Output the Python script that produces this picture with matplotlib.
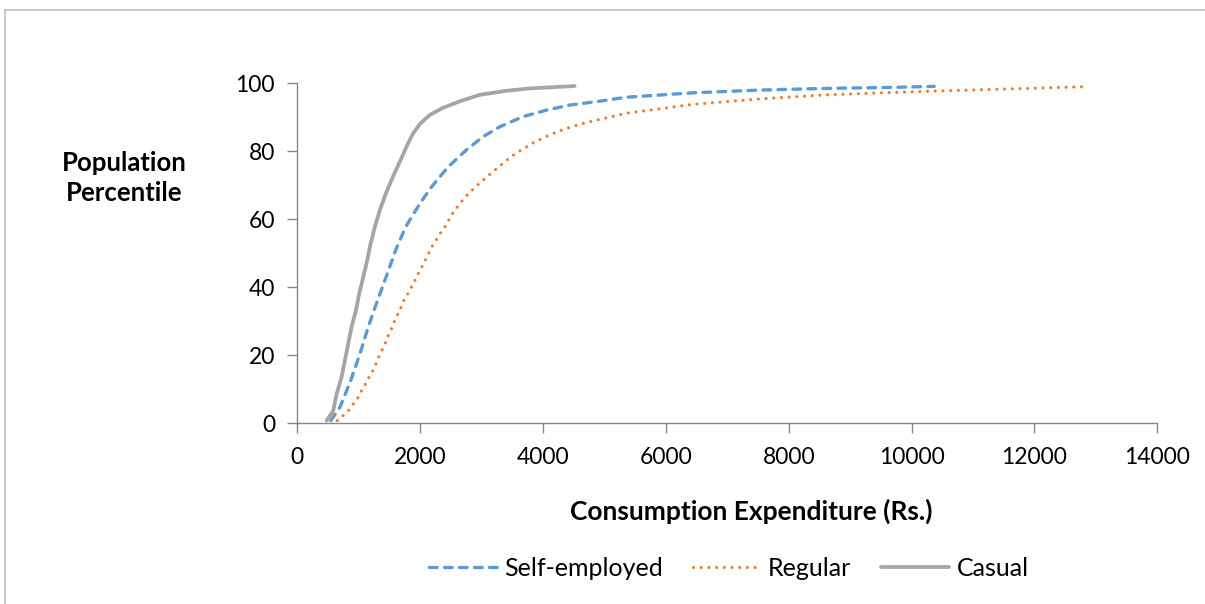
import matplotlib
matplotlib.use("Agg")
import matplotlib.pyplot as plt
from matplotlib.lines import Line2D

# Data: (expenditure in Rs., population percentile)
casual_x = [477, 585, 640, 721, 775, 829, 883, 954, 1008, 1073, 1138, 1192, 1263, 1344, 1442, 1561, 1696, 1794, 1886, 1995, 2157, 2374, 2645, 2970, 3404, 3783, 4515]
casual_y = [0.8, 3.7, 8.6, 13.6, 18.5, 23.4, 28.3, 33.2, 38.1, 43.0, 47.9, 52.8, 57.8, 62.7, 67.6, 72.7, 78.0, 82.0, 85.3, 88.0, 90.7, 92.8, 94.7, 96.6, 97.8, 98.5, 99.2]

self_x = [545, 694, 870, 1019, 1154, 1305, 1465, 1600, 1765, 1995, 2184, 2455, 2753, 3024, 3295, 3675, 4054, 4434, 4867, 5356, 6439, 7524, 8608, 9691, 10369]
self_y = [0.8, 4.7, 12.6, 20.4, 28.3, 36.1, 44.0, 50.9, 57.8, 64.6, 69.5, 75.4, 80.4, 84.3, 87.2, 90.2, 92.1, 93.6, 94.6, 95.9, 97.2, 98.0, 98.5, 98.8, 99.1]

reg_x = [650, 748, 840, 911, 986, 1046, 1111, 1171, 1230, 1279, 1328, 1382, 1431, 1480, 1534, 1577, 1626, 1686, 1734, 1799, 1859, 1913, 1967, 2027, 2087, 2141, 2200, 2266, 2336, 2412, 2461, 2520, 2596, 2672, 2753, 2846, 2943, 3035, 3133, 3225, 3317, 3404, 3496, 3593, 3713, 3821, 3930, 4038, 4146, 4271, 4379, 4499, 4634, 4759, 4878, 5356, 6439, 7524, 8608, 9691, 10341, 11697, 12846]
reg_y = [0.8, 2.3, 3.9, 5.7, 7.5, 9.6, 11.6, 13.6, 15.5, 17.5, 19.6, 21.6, 23.6, 25.8, 27.8, 29.8, 31.7, 34.0, 36.1, 38.1, 40.1, 42.0, 44.0, 46.0, 48.1, 50.1, 52.2, 54.1, 56.1, 58.0, 59.6, 61.5, 63.4, 65.2, 66.9, 68.6, 70.2, 71.7, 73.2, 74.6, 76.0, 77.3, 78.6, 79.8, 81.1, 82.3, 83.3, 84.2, 85.1, 86.0, 86.7, 87.4, 88.1, 88.7, 89.2, 91.2, 93.8, 95.4, 96.6, 97.3, 97.7, 98.4, 99.0]

series_names = ['Self-employed', 'Regular', 'Casual']
x_ticks = [0, 2000, 4000, 6000, 8000, 10000, 12000, 14000]
y_ticks = [0, 20, 40, 60, 80, 100]

plt.rcParams['font.family'] = ['Lato', 'DejaVu Sans']

fig = plt.figure(figsize=(12.05, 6.04), dpi=100)
W, H = 1205, 604
ax = fig.add_axes([297.3 / W, 1 - 423.3 / H, (1157.3 - 297.3) / W, (423.3 - 83.3) / H])

blue = '#5B9BD5'
orange = '#ED7D31'
gray = '#A5A5A5'

blue_style = dict(color=blue, lw=2.4, linestyle=(0, (2.3, 2.2)), dash_capstyle='round')
orange_style = dict(color=orange, lw=2.3, linestyle=(0, (0.01, 2.4)), dash_capstyle='round')
gray_style = dict(color=gray, lw=2.7, solid_capstyle='round')

ax.plot(self_x, self_y, **blue_style)
ax.plot(reg_x, reg_y, **orange_style)
ax.plot(casual_x, casual_y, **gray_style)

ax.set_xlim(0, 14000)
ax.set_ylim(0, 100)
ax.set_xticks(x_ticks)
ax.set_yticks(y_ticks)
ax.set_xticklabels([str(t) for t in x_ticks])
ax.set_yticklabels([str(t) for t in y_ticks])

for s in ['top', 'right']:
    ax.spines[s].set_visible(False)
for s in ['left', 'bottom']:
    ax.spines[s].set_color('#868686')
    ax.spines[s].set_linewidth(1.0)
ax.tick_params(axis='both', direction='out', length=7, width=1.0, color='#868686',
               labelsize=16.5, labelcolor='black')
ax.tick_params(axis='x', pad=10)
ax.tick_params(axis='y', pad=9)

fig.text(124 / W, 1 - 178 / H, 'Population\nPercentile', ha='center', va='center',
         fontsize=18.5, fontweight='bold', linespacing=1.3)
fig.text(751 / W, 1 - 511 / H, 'Consumption Expenditure (Rs.)', ha='center', va='center',
         fontsize=19, fontweight='bold')

handles = [Line2D([], [], **blue_style), Line2D([], [], **orange_style), Line2D([], [], **gray_style)]
fig.legend(handles, series_names, loc='center',
           bbox_to_anchor=(729 / W, 1 - 568 / H), ncol=3, frameon=False,
           fontsize=18, handlelength=2.7, columnspacing=1.2, handletextpad=0.3)

# outer border (top and left edges visible)
fig.add_artist(Line2D([5 / W, 1.0], [1 - 10 / H, 1 - 10 / H], color='#BFBFBF', lw=1.2, transform=fig.transFigure))
fig.add_artist(Line2D([5 / W, 5 / W], [1 - 10 / H, 0], color='#BFBFBF', lw=1.2, transform=fig.transFigure))

fig.savefig('out.png', dpi=100, facecolor='white')
